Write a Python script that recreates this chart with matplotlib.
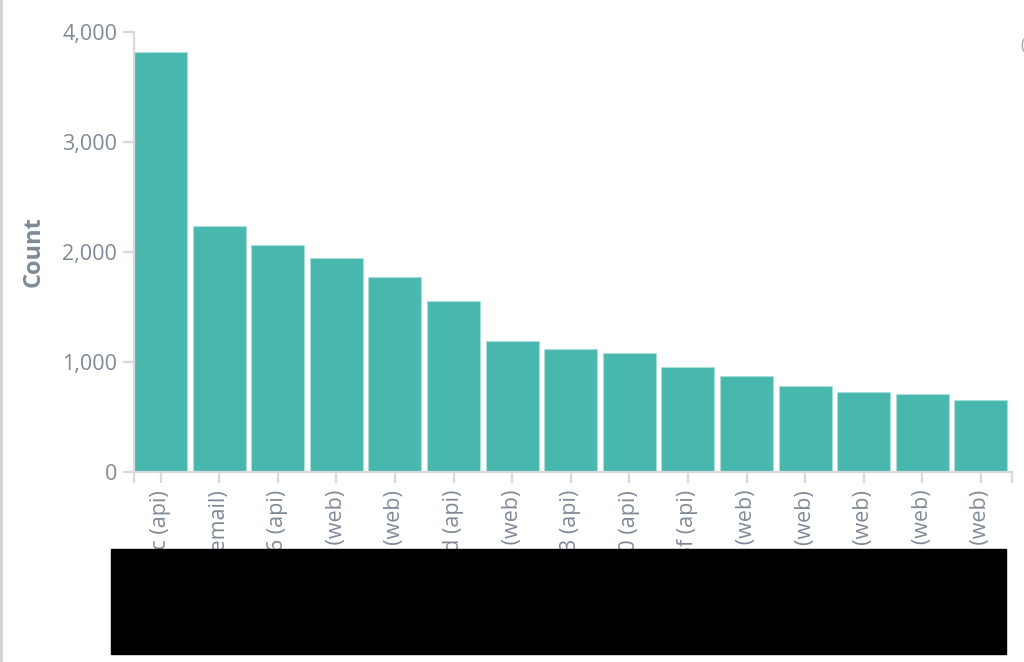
import matplotlib.pyplot as plt
from matplotlib.patches import Rectangle
from matplotlib.lines import Line2D
from matplotlib.ticker import FuncFormatter

plt.rcParams['font.family'] = ['Open Sans', 'DejaVu Sans']

# label tails are all that shows in the reference, the rest sits under the black box
labels = ['svc-8f1c (api)', 'alerts (email)', 'node-16 (api)', 'shop-a (web)',
          'blog (web)', 'auth-d (api)', 'docs (web)', 'pay-3 (api)',
          'core-0 (api)', 'id-3f (api)', 'help (web)', 'news (web)',
          'app (web)', 'status (web)', 'admin (web)']
counts = [3816, 2232, 2062, 1941, 1768, 1555, 1186, 1114, 1080, 955,
          871, 780, 725, 705, 653]

bar_col = '#48b7ad'
txt_col = '#808a96'
axis_col = '#d6d9dd'

fig = plt.figure(figsize=(10.24, 6.62), dpi=100)
ax = fig.add_axes([0.1306, 0.2873, 0.8577, 0.6648])

x = list(range(len(counts)))
ax.bar(x, counts, width=0.905, color=bar_col, edgecolor='#a9ddd8', linewidth=0.8)

ax.set_xlim(-0.457, 14.53)
ax.set_ylim(0, 4000)
ax.set_yticks([0, 1000, 2000, 3000, 4000])
ax.yaxis.set_major_formatter(FuncFormatter(lambda v, p: f'{int(v):,}'))
ax.set_xticks(x)
ax.set_xticklabels(labels, rotation=90)
ax.set_xticks([-0.457, 14.53], minor=True)

for s in ['top', 'right']:
    ax.spines[s].set_visible(False)
for s in ['left', 'bottom']:
    ax.spines[s].set_color(axis_col)
    ax.spines[s].set_linewidth(1.6)

ax.tick_params(axis='both', which='both', length=8, width=1.6, color=axis_col,
               labelcolor=txt_col, labelsize=15.5)
ax.tick_params(axis='y', pad=4)
ax.tick_params(axis='x', pad=5)

ax.set_ylabel('Count', fontsize=17, fontweight='bold', color=txt_col, labelpad=12)

# grey border on the left edge and a stray glyph at top right
fig.add_artist(Line2D([0.001, 0.001], [0, 1], color='#d4d4d4', linewidth=2.2))
fig.text(1020 / 1024, 1 - 46 / 662, '(', color='#a0a4a8', fontsize=12,
         ha='left', va='center')

# redaction box
fig.add_artist(Rectangle((111 / 1024, 1 - 654 / 662), 895 / 1024, 105 / 662,
                         transform=fig.transFigure, color='black', zorder=10))

fig.savefig('out.png', dpi=100)
